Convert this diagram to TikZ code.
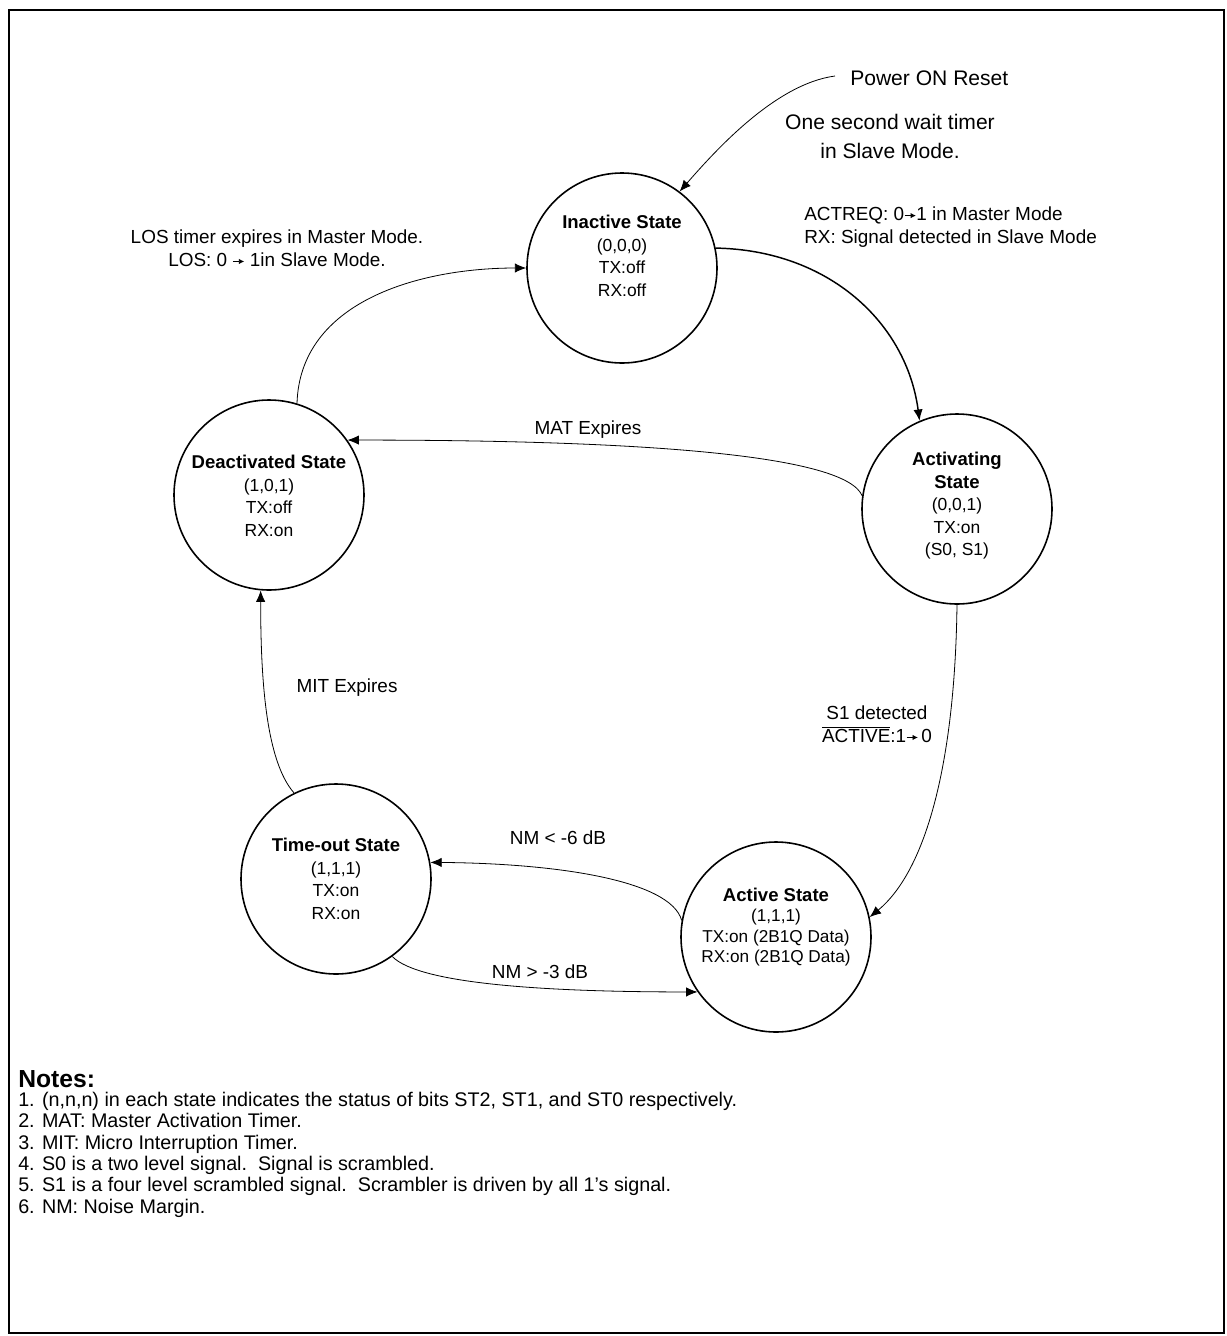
\documentclass[tikz,border=0pt]{standalone}
\usepackage{fontspec}
\setmainfont{Liberation Sans}
\usepackage{tikz}
\usetikzlibrary{arrows.meta}

\newcommand{\sarr}{\tikz[x=1pt,y=1pt,baseline=-3.6pt]\draw[line width=0.6pt,-{Latex[length=4pt,width=4pt]}] (0,0) -- (8.5,0);}
\newcommand{\sname}[1]{{\fontsize{13.9}{16.9}\selectfont\bfseries #1}}

\tikzset{
  state/.style={draw, circle, line width=1.2pt, minimum size=142.5pt, inner sep=0pt},
  stext/.style={align=center, inner sep=0pt, font=\fontsize{13.1}{16.9}\selectfont},
  lbl/.style={align=center, inner sep=0pt, font=\fontsize{14.2}{17.25}\selectfont},
  toplbl/.style={align=center, inner sep=0pt, font=\fontsize{15.8}{21.75}\selectfont},
  conn/.style={-{Latex[length=8.5pt,width=7pt]}, line width=0.6pt},
}

\begin{document}
\begin{tikzpicture}[x=0.75pt,y=-0.75pt]
\useasboundingbox (0,0) rectangle (1227,1336);
\draw [line width = 1.7pt] (9,10) rectangle (1224,1333);

% states
\node[state] (inactive) at (622,268) {};
\node[state] (activating) at (957,509) {};
\node[state] (deactivated) at (269,495) {};
\node[state] (timeout) at (336,879) {};
\node[state] (active) at (776,937) {};

\node[stext] (inactivetxt) at (622,256) {\sname{Inactive State}\\(0,0,0)\\TX:off\\RX:off};
\node[stext] (activatingtxt) at (957,506) {\sname{Activating}\\\sname{State}\\(0,0,1)\\TX:on\\(S0, S1)};
\node[stext] (deactivatedtxt) at (269,496) {\sname{Deactivated State}\\(1,0,1)\\TX:off\\RX:on};
\node[stext] (timeouttxt) at (336,879) {\sname{Time-out State}\\(1,1,1)\\TX:on\\RX:on};
\node[stext, font=\fontsize{12.9}{15.2}\selectfont] (activetxt) at (776,927) {\sname{Active State}\\(1,1,1)\\TX:on (2B1Q Data)\\RX:on (2B1Q Data)};

% labels
\node[toplbl, anchor=west] (powerlbl) at (850,78) {Power ON Reset};
\node[toplbl] (waitlbl) at (890,136) {One second wait timer\\in Slave Mode.};
\node[lbl, anchor=west, align=left] (actreqlbl) at (804,227) {ACTREQ: 0\sarr1 in Master Mode\\RX: Signal detected in Slave Mode};
\node[lbl] (loslbl) at (277,248) {LOS timer expires in Master Mode.\\LOS: 0 \sarr\ 1in Slave Mode.};
\node[lbl] (matlbl) at (588,430) {MAT Expires};
\node[lbl] (s1lbl) at (877,724) {S1 detected\\$\overline{\mbox{ACTIVE}}$:1\sarr\,0};
\node[lbl] (mitlbl) at (347,688) {MIT Expires};
\node[lbl] (nm6lbl) at (558,838) {NM < -6 dB};
\node[lbl] (nm3lbl) at (540,972) {NM > -3 dB};

% transitions
\coordinate (por) at (835,76);
\draw[conn] (por) .. controls +(-60,8) and +(35,-40) .. (inactive.53);
\draw[conn, line width=1.1pt] (inactive.12) .. controls +(113,2) and +(-13,-98) .. (activating.113);
\draw[conn] (deactivated.73) .. controls +(3,-102) and +(-107,0) .. (inactive.180);
\draw[conn] (activating.172) .. controls +(-17,-40) and +(303,0) .. (deactivated.35);
\draw[conn] (activating.270) .. controls +(-2,156) and +(57,-47) .. (active.12);
\draw[conn] (active.170) .. controls +(-11,-40) and +(127,1) .. (timeout.10);
\draw[conn] (timeout.-54) .. controls +(27,28) and +(-147,0) .. (active.215);
\draw[conn] (timeout.116) .. controls +(-28,-32) and +(0,90) .. (deactivated.265);

% notes
\node[anchor=west, inner sep=0pt, font=\fontsize{18.5}{20}\selectfont\bfseries] (noteshead) at (18,1079) {Notes:};
\node[anchor=north west, align=left, inner sep=0pt, font=\fontsize{14.8}{16}\selectfont] (noteslist) at (18,1092) {1. (n,n,n) in each state indicates the status of bits ST2, ST1, and ST0 respectively.\\
2. MAT: Master Activation Timer.\\
3. MIT: Micro Interruption Timer.\\
4. S0 is a two level signal.\ \ Signal is scrambled.\\
5. S1 is a four level scrambled signal.\ \ Scrambler is driven by all 1’s signal.\\
6. NM: Noise Margin.};
\end{tikzpicture}
\end{document}
